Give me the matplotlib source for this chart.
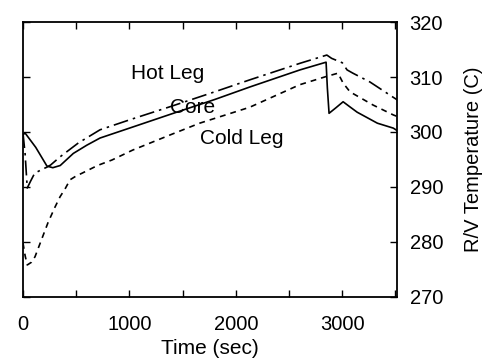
import numpy as np
import matplotlib.pyplot as plt

# Hot leg (dash-dot)
t_hot = [0, 20, 40, 70, 110, 180, 225, 260, 350, 520, 724, 1000, 1382, 1800, 2133, 2603,
         2855, 2900, 3000, 3045, 3100, 3260, 3480, 3520]
T_hot = [299.8, 296.0, 289.8, 291.0, 292.5, 293.2, 293.6, 294.0, 295.5, 298.0, 300.4,
         302.2, 304.6, 307.3, 309.5, 312.5, 314.0, 313.4, 312.6, 311.3, 310.7, 309.1,
         306.3, 305.8]

# Core (solid)
t_core = [0, 20, 120, 225, 280, 350, 473, 600, 724, 1000, 1382, 1800, 2133, 2603,
          2848, 2860, 2876, 2940, 3008, 3070, 3140, 3330, 3480, 3520]
T_core = [299.5, 299.8, 297.2, 293.8, 293.5, 293.9, 296.1, 297.6, 298.9, 300.7, 303.2,
          305.9, 308.2, 311.3, 312.7, 308.0, 303.4, 304.4, 305.5, 304.6, 303.6, 301.6,
          300.7, 300.2]

# Cold leg (dashed)
t_cold = [0, 20, 40, 80, 113, 170, 235, 300, 348, 400, 442, 500, 555, 700, 836, 1030,
          1400, 1660, 2130, 2600, 2850, 2960, 3008, 3073, 3290, 3480, 3520]
T_cold = [279.8, 277.5, 275.8, 276.3, 277.3, 280.2, 283.5, 286.3, 288.2, 289.8, 291.3,
          292.0, 292.5, 293.9, 294.9, 296.7, 299.6, 301.6, 304.5, 308.6, 310.1, 310.7,
          308.9, 307.3, 304.9, 303.1, 302.8]

x_ticks = [0, 500, 1000, 1500, 2000, 2500, 3000, 3500]
x_labels = ['0', '', '1000', '', '2000', '', '3000', '']
y_ticks = [270, 280, 290, 300, 310, 320]

plt.rcParams['font.family'] = ['Liberation Sans', 'DejaVu Sans']

fig = plt.figure(figsize=(4.89, 3.62), dpi=100)
ax = fig.add_axes([0.047, 0.180, 0.765, 0.759])

ax.plot(t_hot, T_hot, color='black', lw=1.2, dashes=(9, 3, 1.5, 3))
ax.plot(t_core, T_core, color='black', lw=1.2, linestyle='-')
ax.plot(t_cold, T_cold, color='black', lw=1.2, dashes=(3.5, 3))

ax.text(1363, 310.7, 'Hot Leg', fontsize=15, ha='center', va='center')
ax.text(1598, 304.5, 'Core', fontsize=15, ha='center', va='center')
ax.text(2054, 298.9, 'Cold Leg', fontsize=15, ha='center', va='center')

ax.set_xlim(0, 3515)
ax.set_ylim(270, 320)
ax.set_xticks(x_ticks)
ax.set_xticklabels(x_labels)
ax.set_yticks(y_ticks)

ax.yaxis.tick_right()
ax.yaxis.set_label_position('right')
ax.tick_params(axis='both', direction='in', length=5, width=1.0,
               top=True, bottom=True, left=True, right=True,
               labelleft=False, labelright=True, labelsize=14.5)
ax.tick_params(axis='x', pad=13)
ax.tick_params(axis='y', pad=9)
for s in ax.spines.values():
    s.set_linewidth(1.3)

ax.set_xlabel('Time (sec)', fontsize=15, labelpad=4)
ax.set_ylabel('R/V Temperature (C)', fontsize=14.5, labelpad=15)

fig.savefig('out.png', dpi=100)
